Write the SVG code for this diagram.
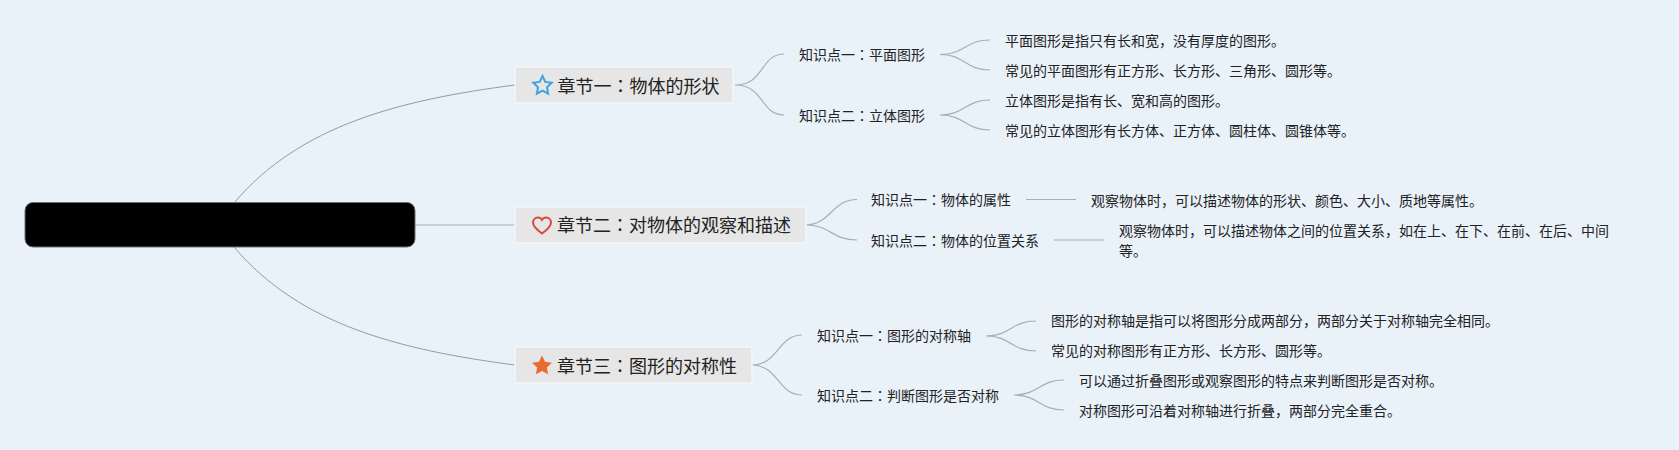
<svg xmlns="http://www.w3.org/2000/svg" width="1679" height="450" viewBox="0 0 1679 450">
<style>
text{font-family:"Noto Sans CJK SC","Noto Sans",sans-serif;fill:#222}
.t{font-size:18px}
.s,.l{font-size:14px}
.c{fill:#e6e6e6;stroke:#f4f6f8;stroke-width:1.5}
.k{fill:none;stroke:#a9aeb3;stroke-width:1.2}
.r{fill:none;stroke:#9a9a9a;stroke-width:1}
.p{font-family:"Noto Sans CJK TC","Noto Sans CJK SC",sans-serif}
</style>
<rect width="1679" height="450" fill="#e9f1f9"/>
<g id="connectors">
<path class="r" d="M234 203C300 125 400 100 515 85"/>
<path class="r" d="M234 247C300 325 400 350 515 365"/>
<path class="k" d="M415 225H515"/>
<path class="k" d="M735 85C765 85 760 54 784 54M735 85C765 85 760 115 784 115"/>
<path class="k" d="M940 54.500C965 54.500 965 40 990 40M940 54.500C965 54.500 965 70 990 70"/>
<path class="k" d="M940 115C965 115 965 100 990 100M940 115C965 115 965 130 990 130"/>
<path class="k" d="M806 225C830 225 832 199.500 857 199.500M806 225C830 225 832 240 857 240"/>
<path class="k" d="M1026 199.500H1076M1054 240H1104"/>
<path class="k" d="M752 365C778 365 778 335 802 335M752 365C778 365 778 395 802 395"/>
<path class="k" d="M986 336C1011 336 1011 321 1036 321M986 336C1011 336 1011 351 1036 351"/>
<path class="k" d="M1014 395C1039 395 1039 380 1064 380M1014 395C1039 395 1039 410 1064 410"/>
</g>
<g id="root"><rect x="25" y="202.500" width="390" height="44.500" rx="8" fill="#000" stroke="#6b7078" stroke-width="1"/></g>
<g id="ch1"><rect class="c" x="515" y="67" width="218" height="36"/>
<path d="M542.500 76l2.800 5.900 6.400.9-4.700 4.500 1.100 6.400-5.600-3.100-5.600 3.100 1.100-6.400-4.700-4.500 6.400-.9z" fill="none" stroke="#3da5dc" stroke-width="2"/>
<text class="t" x="557.500" y="92.500">章节一<tspan class="p">：</tspan>物体的形状</text></g>
<g id="ch2"><rect class="c" x="515" y="207" width="291" height="36"/>
<path d="M542 233.500c-5.800-4.200-9-7.200-9-11 0-2.900 2.200-5 4.900-5 1.800 0 3.300.9 4.100 2.400.8-1.500 2.300-2.400 4.100-2.400 2.700 0 4.900 2.100 4.900 5 0 3.800-3.200 6.800-9 11z" fill="none" stroke="#d8493b" stroke-width="2"/>
<text class="t" x="557" y="231.500">章节二<tspan class="p">：</tspan>对物体的观察和描述</text></g>
<g id="ch3"><rect class="c" x="515" y="347" width="237" height="36"/>
<path d="M542 355.500l3 6.300 6.900.9-5 4.800 1.200 6.800-6.100-3.300-6.100 3.300 1.200-6.800-5-4.800 6.900-.9z" fill="#ea6a32"/>
<text class="t" x="557" y="372.500">章节三<tspan class="p">：</tspan>图形的对称性</text></g>
<g id="s11"><text class="s" x="799" y="60">知识点一<tspan class="p">：</tspan>平面图形</text></g>
<g id="s12"><text class="s" x="799" y="121">知识点二<tspan class="p">：</tspan>立体图形</text></g>
<g id="s21"><text class="s" x="871" y="205">知识点一<tspan class="p">：</tspan>物体的属性</text></g>
<g id="s22"><text class="s" x="871" y="246">知识点二<tspan class="p">：</tspan>物体的位置关系</text></g>
<g id="s31"><text class="s" x="817" y="341">知识点一<tspan class="p">：</tspan>图形的对称轴</text></g>
<g id="s32"><text class="s" x="817" y="401">知识点二<tspan class="p">：</tspan>判断图形是否对称</text></g>
<g id="l111"><text class="l" x="1005" y="46">平面图形是指只有长和宽，没有厚度的图形。</text></g>
<g id="l112"><text class="l" x="1005" y="76">常见的平面图形有正方形、长方形、三角形、圆形等。</text></g>
<g id="l121"><text class="l" x="1005" y="106">立体图形是指有长、宽和高的图形。</text></g>
<g id="l122"><text class="l" x="1005" y="136">常见的立体图形有长方体、正方体、圆柱体、圆锥体等。</text></g>
<g id="l211"><text class="l" x="1091" y="206">观察物体时，可以描述物体的形状、颜色、大小、质地等属性。</text></g>
<g id="l221"><text class="l" x="1119" y="236">观察物体时，可以描述物体之间的位置关系，如在上、在下、在前、在后、中间</text><text class="l" x="1119" y="256">等。</text></g>
<g id="l311"><text class="l" x="1051" y="326">图形的对称轴是指可以将图形分成两部分，两部分关于对称轴完全相同。</text></g>
<g id="l312"><text class="l" x="1051" y="356">常见的对称图形有正方形、长方形、圆形等。</text></g>
<g id="l321"><text class="l" x="1079" y="386">可以通过折叠图形或观察图形的特点来判断图形是否对称。</text></g>
<g id="l322"><text class="l" x="1079" y="416">对称图形可沿着对称轴进行折叠，两部分完全重合。</text></g>
</svg>
